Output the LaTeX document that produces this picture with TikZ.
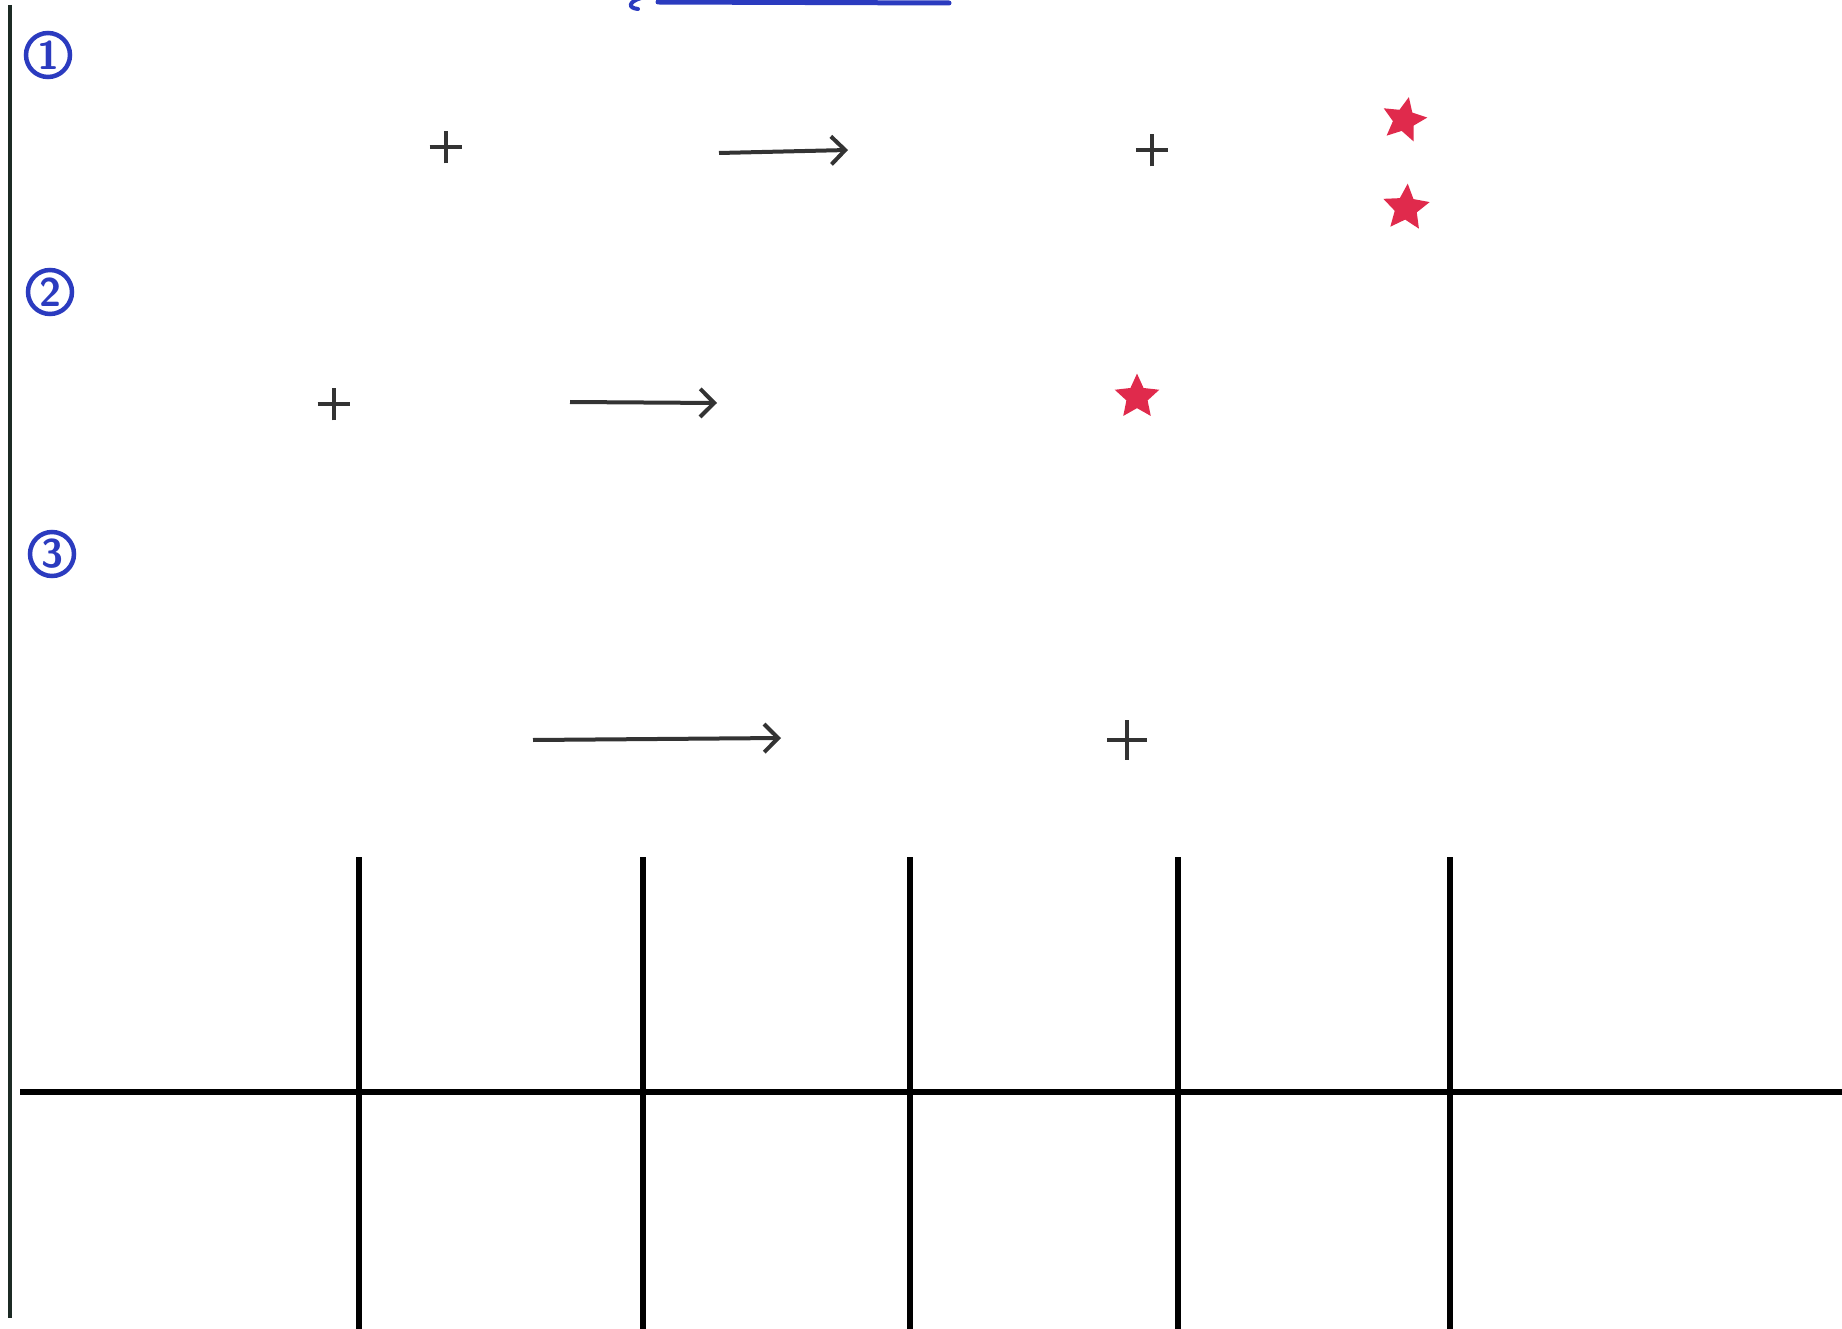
\documentclass[tikz,border=0pt]{standalone}
\usetikzlibrary{arrows.meta,shapes.geometric,shapes.misc}
\definecolor{ink}{HTML}{333333}
\definecolor{pen}{HTML}{2B3BBF}
\definecolor{starred}{HTML}{E02A4C}
\definecolor{margin}{HTML}{1C2A24}
\tikzset{
  numcirc/.style={circle, draw=pen, line width=4.5pt, text=pen, minimum size=44pt, inner sep=0pt, font=\sffamily\bfseries\fontsize{40}{40}\selectfont},
  plusmark/.style={cross out, rotate=45, draw=ink, line width=4pt, minimum size=#1, inner sep=0pt},
  plusmark/.default=20pt,
  starmark/.style={star, star points=5, star point ratio=2.1, fill=starred, draw=starred, line width=2pt, minimum size=#1, inner sep=0pt},
  starmark/.default=40pt,
  conn/.style={draw=ink, line width=4pt, -{Straight Barb[length=14pt, width=28pt, line width=4pt]}},
  gridline/.style={black, line width=6pt}
}
\begin{document}
\begin{tikzpicture}[x=1pt, y=-1pt]
\useasboundingbox (0,0) rectangle (1842,1329);
% left margin line
\draw[margin, line width=4pt] (10,5) -- (10,1318);
% top blue stroke (cut off)
\draw[pen, line width=5pt, line cap=round] (658,2) -- (949,3);
\draw[pen, line width=4pt, line cap=round] (641,-2) .. controls (628,2) and (628,8) .. (638,9);
% circled numbers
\node[numcirc] (n1) at (48,55) {1};
\node[numcirc] (n2) at (50,292) {2};
\node[numcirc] (n3) at (52,554) {3};
% row 1
\node[plusmark=19pt] (p1) at (446,147) {};
\coordinate (a1s) at (719,153);
\coordinate (a1e) at (848,150);
\draw[conn] (a1s) -- (a1e);
\node[plusmark=19pt] (p2) at (1152,150) {};
\node[starmark=42pt, rotate=-12] (s1) at (1404,120) {};
\node[starmark=44pt, rotate=-4] (s2) at (1406,208) {};
% row 2
\node[plusmark=19pt] (p3) at (334,404) {};
\coordinate (a2s) at (570,402);
\coordinate (a2e) at (717,403);
\draw[conn] (a2s) -- (a2e);
\node[starmark=42pt] (s3) at (1137,397) {};
% row 3
\coordinate (a3s) at (533,740);
\coordinate (a3e) at (781,738);
\draw[conn] (a3s) -- (a3e);
\node[plusmark=24pt] (p4) at (1127,740) {};
% grid
\draw[gridline] (20,1092) -- (1842,1092);
\foreach \gx in {359,643,910,1178,1450} {
  \draw[gridline] (\gx,857) -- (\gx,1329);
}
\end{tikzpicture}
\end{document}
